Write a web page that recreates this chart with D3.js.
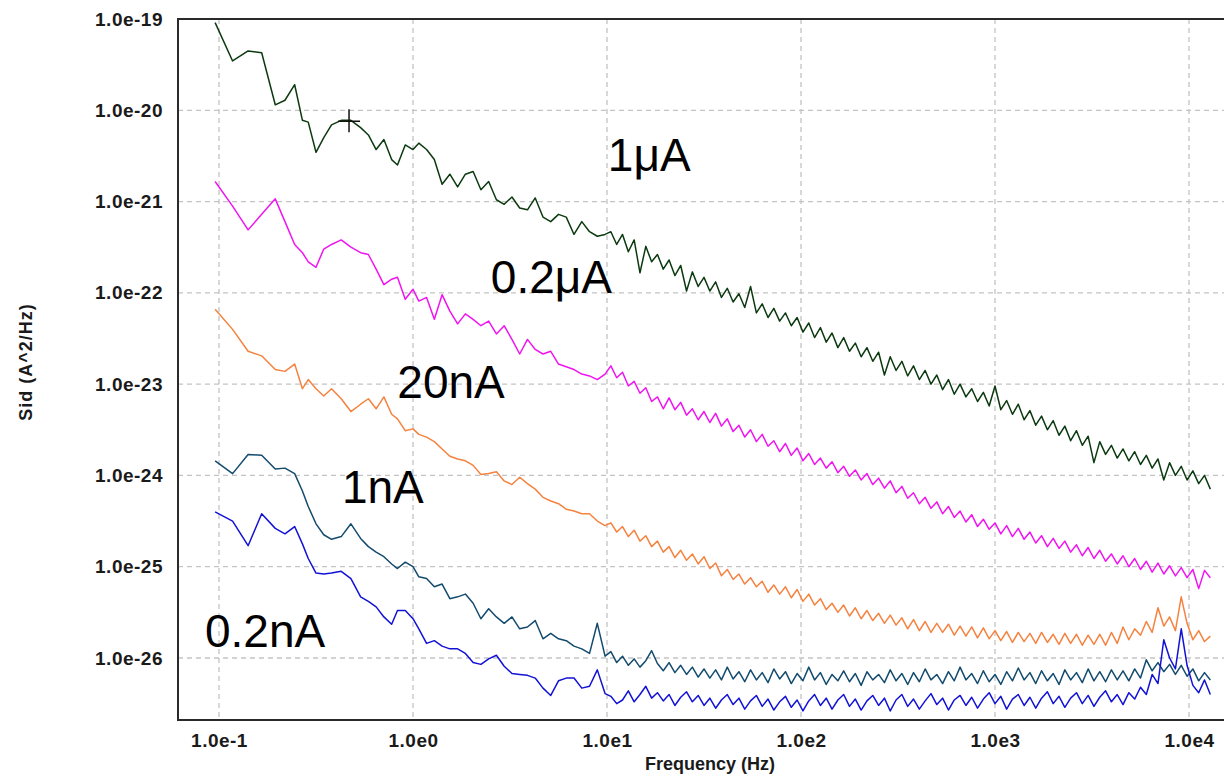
<!DOCTYPE html>
<html>
<head>
<meta charset="utf-8">
<script src="https://cdn.jsdelivr.net/npm/d3@7"></script>
<style>
  body { margin: 0; background: #fff; }
  svg { display: block; font-family: "Liberation Sans", Arial, sans-serif; }
</style>
</head>
<body>
<div id="chart"></div>
<script>
// frame of the plot area
const w = 1224;
const h = 775;
const plotLeft = 178;
const plotTop = 19;
const plotRight = 1224;
const plotBottom = 720;

// log10 of frequency (Hz)
const logFreq = [
  -1.02,-0.93,-0.85,-0.78,-0.71,-0.66,-0.61,-0.57,-0.54,-0.50,-0.46,-0.42,-0.37,-0.32,-0.27,-0.23,-0.19,-0.15,-0.11,-0.08,-0.04,0.00,0.03,
  0.07,0.11,0.15,0.19,0.23,0.27,0.31,0.35,0.39,0.43,0.47,0.51,0.55,0.59,0.63,0.67,0.71,0.75,0.79,0.83,0.87,0.91,0.95,0.99,
  1.02,1.05,1.08,1.11,1.14,1.17,1.20,1.23,1.26,1.29,1.32,1.35,1.38,1.41,1.44,1.47,1.50,1.53,1.56,1.59,
  1.62,1.65,1.68,1.71,1.74,1.77,1.80,1.83,1.86,1.89,1.92,1.95,1.98,2.01,2.04,2.07,2.10,2.13,2.16,2.19,
  2.22,2.25,2.28,2.31,2.34,2.37,2.40,2.43,2.46,2.49,2.52,2.55,2.58,2.61,2.64,2.67,2.70,2.73,2.76,2.79,
  2.82,2.85,2.88,2.91,2.94,2.97,3.00,3.03,3.06,3.09,3.12,3.15,3.18,3.21,3.24,3.27,3.30,3.33,3.36,3.39,
  3.42,3.45,3.48,3.51,3.54,3.57,3.60,3.63,3.66,3.69,3.72,3.75,3.78,3.81,3.84,3.87,3.90,3.93,3.96,3.99,
  4.02,4.05,4.08,4.11
];

// log10 of Sid (A^2/Hz) for each bias current
const sid1uA = [
  -19.04,-19.46,-19.35,-19.37,-19.94,-19.89,-19.72,-20.11,-20.13,-20.46,-20.30,-20.16,-20.11,-20.11,-20.19,-20.27,-20.43,-20.32,-20.54,-20.60,-20.38,-20.43,-20.36,
  -20.43,-20.54,-20.81,-20.70,-20.84,-20.70,-20.67,-20.87,-20.78,-20.98,-21.03,-20.95,-21.07,-21.09,-20.96,-21.17,-21.22,-21.14,-21.17,-21.36,-21.22,-21.33,-21.38,-21.36,
  -21.33,-21.47,-21.36,-21.55,-21.42,-21.78,-21.49,-21.66,-21.58,-21.74,
  -21.64,-21.81,-21.70,-21.98,-21.77,-21.93,-21.83,-21.98,-21.88,-22.05,
  -21.95,-22.10,-22.01,-22.16,-21.93,-22.22,-22.12,-22.27,-22.17,-22.31,
  -22.22,-22.36,-22.27,-22.43,-22.33,-22.49,-22.38,-22.54,-22.44,-22.60,
  -22.49,-22.64,-22.55,-22.70,-22.60,-22.75,-22.65,-22.90,-22.70,-22.85,
  -22.75,-22.91,-22.80,-22.95,-22.85,-23.00,-22.90,-23.06,-22.95,-23.11,
  -23.00,-23.14,-23.05,-23.19,-23.09,-23.24,-23.02,-23.28,-23.18,-23.33,
  -23.22,-23.39,-23.29,-23.45,-23.35,-23.50,-23.40,-23.56,-23.46,-23.62,
  -23.51,-23.67,-23.57,-23.86,-23.63,-23.77,-23.67,-23.81,-23.71,-23.84,
  -23.74,-23.88,-23.78,-23.92,-23.82,-24.05,-23.86,-24.00,-23.90,-24.05,
  -23.95,-24.09,-24.00,-24.15
];
const sid02uA = [
  -20.78,-21.05,-21.31,-21.14,-20.97,-21.22,-21.47,-21.56,-21.66,-21.72,-21.52,-21.47,-21.42,-21.50,-21.56,-21.58,-21.74,-21.91,-21.85,-21.83,-22.07,-21.96,-22.09,
  -22.05,-22.29,-22.02,-22.20,-22.34,-22.23,-22.29,-22.36,-22.31,-22.45,-22.36,-22.51,-22.67,-22.51,-22.62,-22.67,-22.64,-22.78,-22.81,-22.84,-22.89,-22.91,-22.95,-22.89,
  -22.80,-22.93,-22.87,-23.02,-22.97,-23.10,-23.04,-23.19,-23.14,-23.27,
  -23.15,-23.28,-23.20,-23.34,-23.27,-23.39,-23.30,-23.42,-23.32,-23.46,
  -23.38,-23.52,-23.45,-23.58,-23.50,-23.63,-23.55,-23.68,-23.62,-23.74,
  -23.65,-23.78,-23.70,-23.84,-23.76,-23.88,-23.81,-23.92,-23.85,-23.97,
  -23.90,-24.01,-23.94,-24.05,-23.98,-24.10,-24.03,-24.14,-24.06,-24.19,
  -24.12,-24.25,-24.19,-24.31,-24.24,-24.36,-24.29,-24.42,-24.34,-24.46,
  -24.39,-24.51,-24.43,-24.56,-24.48,-24.59,-24.52,-24.64,-24.55,-24.67,
  -24.58,-24.70,-24.62,-24.74,-24.66,-24.78,-24.69,-24.80,-24.72,-24.84,
  -24.76,-24.88,-24.79,-24.91,-24.82,-24.94,-24.86,-24.97,-24.88,-25.00,
  -24.91,-25.03,-24.94,-25.06,-24.96,-25.08,-24.99,-25.10,-25.01,-25.12,
  -25.03,-25.24,-25.04,-25.12
];
const sid20nA = [
  -22.18,-22.40,-22.64,-22.69,-22.84,-22.86,-22.78,-23.05,-22.95,-23.05,-23.13,-23.05,-23.16,-23.30,-23.22,-23.16,-23.27,-23.14,-23.33,-23.38,-23.51,-23.49,-23.55,
  -23.58,-23.63,-23.71,-23.79,-23.82,-23.84,-23.89,-23.99,-23.98,-23.96,-24.06,-24.10,-24.02,-24.09,-24.15,-24.24,-24.28,-24.31,-24.37,-24.39,-24.42,-24.42,-24.50,-24.55,
  -24.52,-24.62,-24.56,-24.67,-24.60,-24.72,-24.66,-24.78,-24.72,-24.84,
  -24.78,-24.90,-24.82,-24.93,-24.86,-24.97,-24.89,-25.02,-24.96,-25.10,
  -25.03,-25.14,-25.08,-25.19,-25.12,-25.22,-25.16,-25.28,-25.20,-25.30,
  -25.22,-25.34,-25.25,-25.38,-25.30,-25.42,-25.35,-25.47,-25.40,-25.50,
  -25.42,-25.54,-25.45,-25.57,-25.48,-25.59,-25.51,-25.62,-25.53,-25.64,
  -25.56,-25.68,-25.58,-25.70,-25.60,-25.72,-25.62,-25.72,-25.63,-25.75,
  -25.65,-25.76,-25.66,-25.78,-25.67,-25.79,-25.70,-25.81,-25.71,-25.83,
  -25.72,-25.82,-25.73,-25.84,-25.72,-25.83,-25.74,-25.85,-25.73,-25.84,
  -25.74,-25.86,-25.75,-25.85,-25.74,-25.86,-25.72,-25.84,-25.66,-25.80,
  -25.68,-25.75,-25.60,-25.72,-25.45,-25.65,-25.55,-25.70,-25.33,-25.62,
  -25.80,-25.70,-25.82,-25.76
];
const sid1nA = [
  -23.84,-23.98,-23.77,-23.78,-23.93,-23.92,-23.98,-24.17,-24.34,-24.53,-24.65,-24.70,-24.67,-24.53,-24.69,-24.78,-24.84,-24.89,-24.97,-25.02,-24.95,-25.00,-25.11,
  -25.13,-25.22,-25.19,-25.35,-25.33,-25.30,-25.40,-25.57,-25.46,-25.55,-25.62,-25.55,-25.68,-25.66,-25.59,-25.79,-25.73,-25.79,-25.81,-25.87,-25.90,-25.95,-25.62,-25.98,
  -25.93,-26.05,-25.98,-26.08,-26.01,-26.10,-26.03,-25.92,-26.06,-26.14,
  -26.05,-26.16,-26.08,-26.18,-26.10,-26.21,-26.12,-26.22,-26.13,-26.24,
  -26.10,-26.23,-26.15,-26.26,-26.13,-26.24,-26.16,-26.27,-26.12,-26.23,
  -26.15,-26.28,-26.17,-26.25,-26.10,-26.24,-26.16,-26.29,-26.18,-26.25,
  -26.14,-26.26,-26.17,-26.30,-26.15,-26.24,-26.18,-26.27,-26.13,-26.25,
  -26.17,-26.29,-26.16,-26.26,-26.12,-26.24,-26.18,-26.28,-26.15,-26.25,
  -26.10,-26.24,-26.17,-26.28,-26.14,-26.26,-26.18,-26.29,-26.15,-26.25,
  -26.11,-26.24,-26.16,-26.28,-26.14,-26.25,-26.17,-26.29,-26.13,-26.24,
  -26.16,-26.27,-26.12,-26.25,-26.15,-26.26,-26.13,-26.24,-26.14,-26.25,
  -26.12,-26.22,-26.02,-26.14,-26.05,-26.15,-26.07,-26.18,-26.08,-26.20,
  -26.12,-26.25,-26.16,-26.24
];
const sid02nA = [
  -24.40,-24.50,-24.77,-24.42,-24.58,-24.64,-24.56,-24.75,-24.91,-25.07,-25.08,-25.07,-25.05,-25.13,-25.33,-25.38,-25.44,-25.55,-25.63,-25.48,-25.48,-25.57,-25.68,
  -25.84,-25.81,-25.87,-25.90,-25.90,-25.95,-26.05,-26.07,-26.01,-25.97,-26.09,-26.17,-26.18,-26.19,-26.22,-26.33,-26.41,-26.25,-26.22,-26.22,-26.33,-26.31,-26.13,-26.39,
  -26.42,-26.50,-26.46,-26.36,-26.48,-26.40,-26.31,-26.44,-26.38,-26.47,
  -26.40,-26.52,-26.43,-26.37,-26.48,-26.41,-26.52,-26.44,-26.55,-26.46,
  -26.40,-26.51,-26.44,-26.56,-26.47,-26.41,-26.53,-26.45,-26.57,-26.48,
  -26.42,-26.54,-26.46,-26.58,-26.47,-26.40,-26.52,-26.44,-26.56,-26.46,
  -26.40,-26.53,-26.45,-26.57,-26.47,-26.41,-26.52,-26.44,-26.58,-26.46,
  -26.40,-26.53,-26.45,-26.56,-26.47,-26.39,-26.51,-26.44,-26.57,-26.46,
  -26.41,-26.52,-26.43,-26.55,-26.45,-26.38,-26.50,-26.42,-26.56,-26.45,
  -26.40,-26.52,-26.43,-26.55,-26.44,-26.37,-26.50,-26.42,-26.54,-26.44,
  -26.38,-26.50,-26.41,-26.53,-26.43,-26.36,-26.48,-26.40,-26.51,-26.38,
  -26.45,-26.32,-26.40,-26.18,-26.28,-25.80,-26.00,-26.12,-25.68,-26.08,
  -26.30,-26.38,-26.24,-26.40
];

const seriesList = [sid1uA, sid02uA, sid20nA, sid1nA, sid02nA];
const seriesColors = ['#0c3a10', '#f014f0', '#f5823f', '#134b6e', '#1212d6'];

// axis ticks
const xTickVals = [1e-1, 1e0, 1e1, 1e2, 1e3, 1e4];
const xTickLabels = ['1.0e-1', '1.0e0', '1.0e1', '1.0e2', '1.0e3', '1.0e4'];
const yTickVals = [1e-19, 1e-20, 1e-21, 1e-22, 1e-23, 1e-24, 1e-25, 1e-26];
const yTickLabels = ['1.0e-19', '1.0e-20', '1.0e-21', '1.0e-22', '1.0e-23', '1.0e-24', '1.0e-25', '1.0e-26'];

// curve labels (left edge / baseline in data units)
const noteTexts = ['1μA', '0.2μA', '20nA', '1nA', '0.2nA'];
const noteFreq = [10.1, 2.52, 0.83, 0.43, 0.0847];
const noteSid = [2.16e-21, 1.0e-22, 7.06e-24, 5.0e-25, 1.32e-26];

// cursor cross
const cursorFreq = 0.468;
const cursorSid = 7.6e-21;

const svg = d3.select('#chart').append('svg')
  .attr('width', w)
  .attr('height', h);

// scales: one decade is ~194px wide and ~91px tall
const x = d3.scaleLog().domain([1e-1, 1e4]).range([219, 1189]);
const y = d3.scaleLog().domain([1e-19, 1e-26]).range([19, 658]);

// dashed grid
const grid = svg.append('g').attr('class', 'grid');
grid.selectAll('line.gx').data(xTickVals).enter().append('line')
  .attr('x1', d => x(d)).attr('x2', d => x(d))
  .attr('y1', plotTop).attr('y2', plotBottom);
grid.selectAll('line.gy').data(yTickVals).enter().append('line')
  .attr('x1', plotLeft).attr('x2', plotRight)
  .attr('y1', d => y(d)).attr('y2', d => y(d));
grid.selectAll('line')
  .attr('stroke', '#c4c4c4')
  .attr('stroke-width', 1.3)
  .attr('stroke-dasharray', '5,4');

// clip for the curves
svg.append('clipPath').attr('id', 'plot-clip')
  .append('rect')
  .attr('x', plotLeft).attr('y', plotTop)
  .attr('width', plotRight - plotLeft).attr('height', plotBottom - plotTop);

const line = d3.line()
  .x(d => x(d[0]))
  .y(d => y(d[1]));

const curves = svg.append('g').attr('clip-path', 'url(#plot-clip)');
seriesList.forEach((vals, k) => {
  const pts = logFreq.map((lf, i) => [10 ** lf, 10 ** vals[i]])
    .filter(d => isFinite(d[1]));
  curves.append('path')
    .datum(pts)
    .attr('fill', 'none')
    .attr('stroke', seriesColors[k])
    .attr('stroke-width', 1.5)
    .attr('stroke-linejoin', 'round')
    .attr('d', line);
});

// frame (right side runs off the picture)
svg.append('path')
  .attr('d', `M${plotRight + 2},${plotTop}H${plotLeft}V${plotBottom}H${plotRight + 2}`)
  .attr('fill', 'none')
  .attr('stroke', '#2a2a2a')
  .attr('stroke-width', 2);

// axes labels
const xAxis = d3.axisBottom(x)
  .tickValues(xTickVals)
  .tickSize(0)
  .tickPadding(14)
  .tickFormat((d, i) => xTickLabels[i]);
svg.append('g')
  .attr('transform', 'translate(0,' + plotBottom + ')')
  .attr('id', 'x-axis')
  .call(xAxis);

const yAxis = d3.axisLeft(y)
  .tickValues(yTickVals)
  .tickSize(0)
  .tickPadding(15)
  .tickFormat((d, i) => yTickLabels[i]);
svg.append('g')
  .attr('transform', 'translate(' + plotLeft + ',0)')
  .attr('id', 'y-axis')
  .call(yAxis);

svg.selectAll('#x-axis .domain, #y-axis .domain').remove();
svg.selectAll('#x-axis text, #y-axis text')
  .attr('fill', '#1a1a1a')
  .style('font-family', '"Liberation Sans", Arial, sans-serif')
  .style('font-size', '19px')
  .style('font-weight', 'bold')
  .style('letter-spacing', '0.5px');

// axis titles
svg.append('text')
  .attr('x', 710)
  .attr('y', 770)
  .attr('text-anchor', 'middle')
  .attr('fill', '#1a1a1a')
  .style('font-size', '18px')
  .style('font-weight', 'bold')
  .text('Frequency (Hz)');

svg.append('text')
  .attr('transform', 'translate(32,362) rotate(-90)')
  .attr('text-anchor', 'middle')
  .attr('fill', '#1a1a1a')
  .style('font-size', '18px')
  .style('font-weight', 'bold')
  .style('letter-spacing', '1px')
  .text('Sid (A^2/Hz)');

// curve labels
svg.selectAll('text.note').data(noteTexts).enter().append('text')
  .attr('class', 'note')
  .attr('x', (d, i) => x(noteFreq[i]))
  .attr('y', (d, i) => y(noteSid[i]))
  .attr('fill', '#000')
  .style('font-size', '46px')
  .text(d => d);

// cursor cross
const cx = x(cursorFreq);
const cy = y(cursorSid);
svg.append('path')
  .attr('d', `M${cx - 11},${cy}H${cx + 11}M${cx},${cy - 12}V${cy + 11}`)
  .attr('stroke', '#111')
  .attr('stroke-width', 1.5);
</script>
</body>
</html>
